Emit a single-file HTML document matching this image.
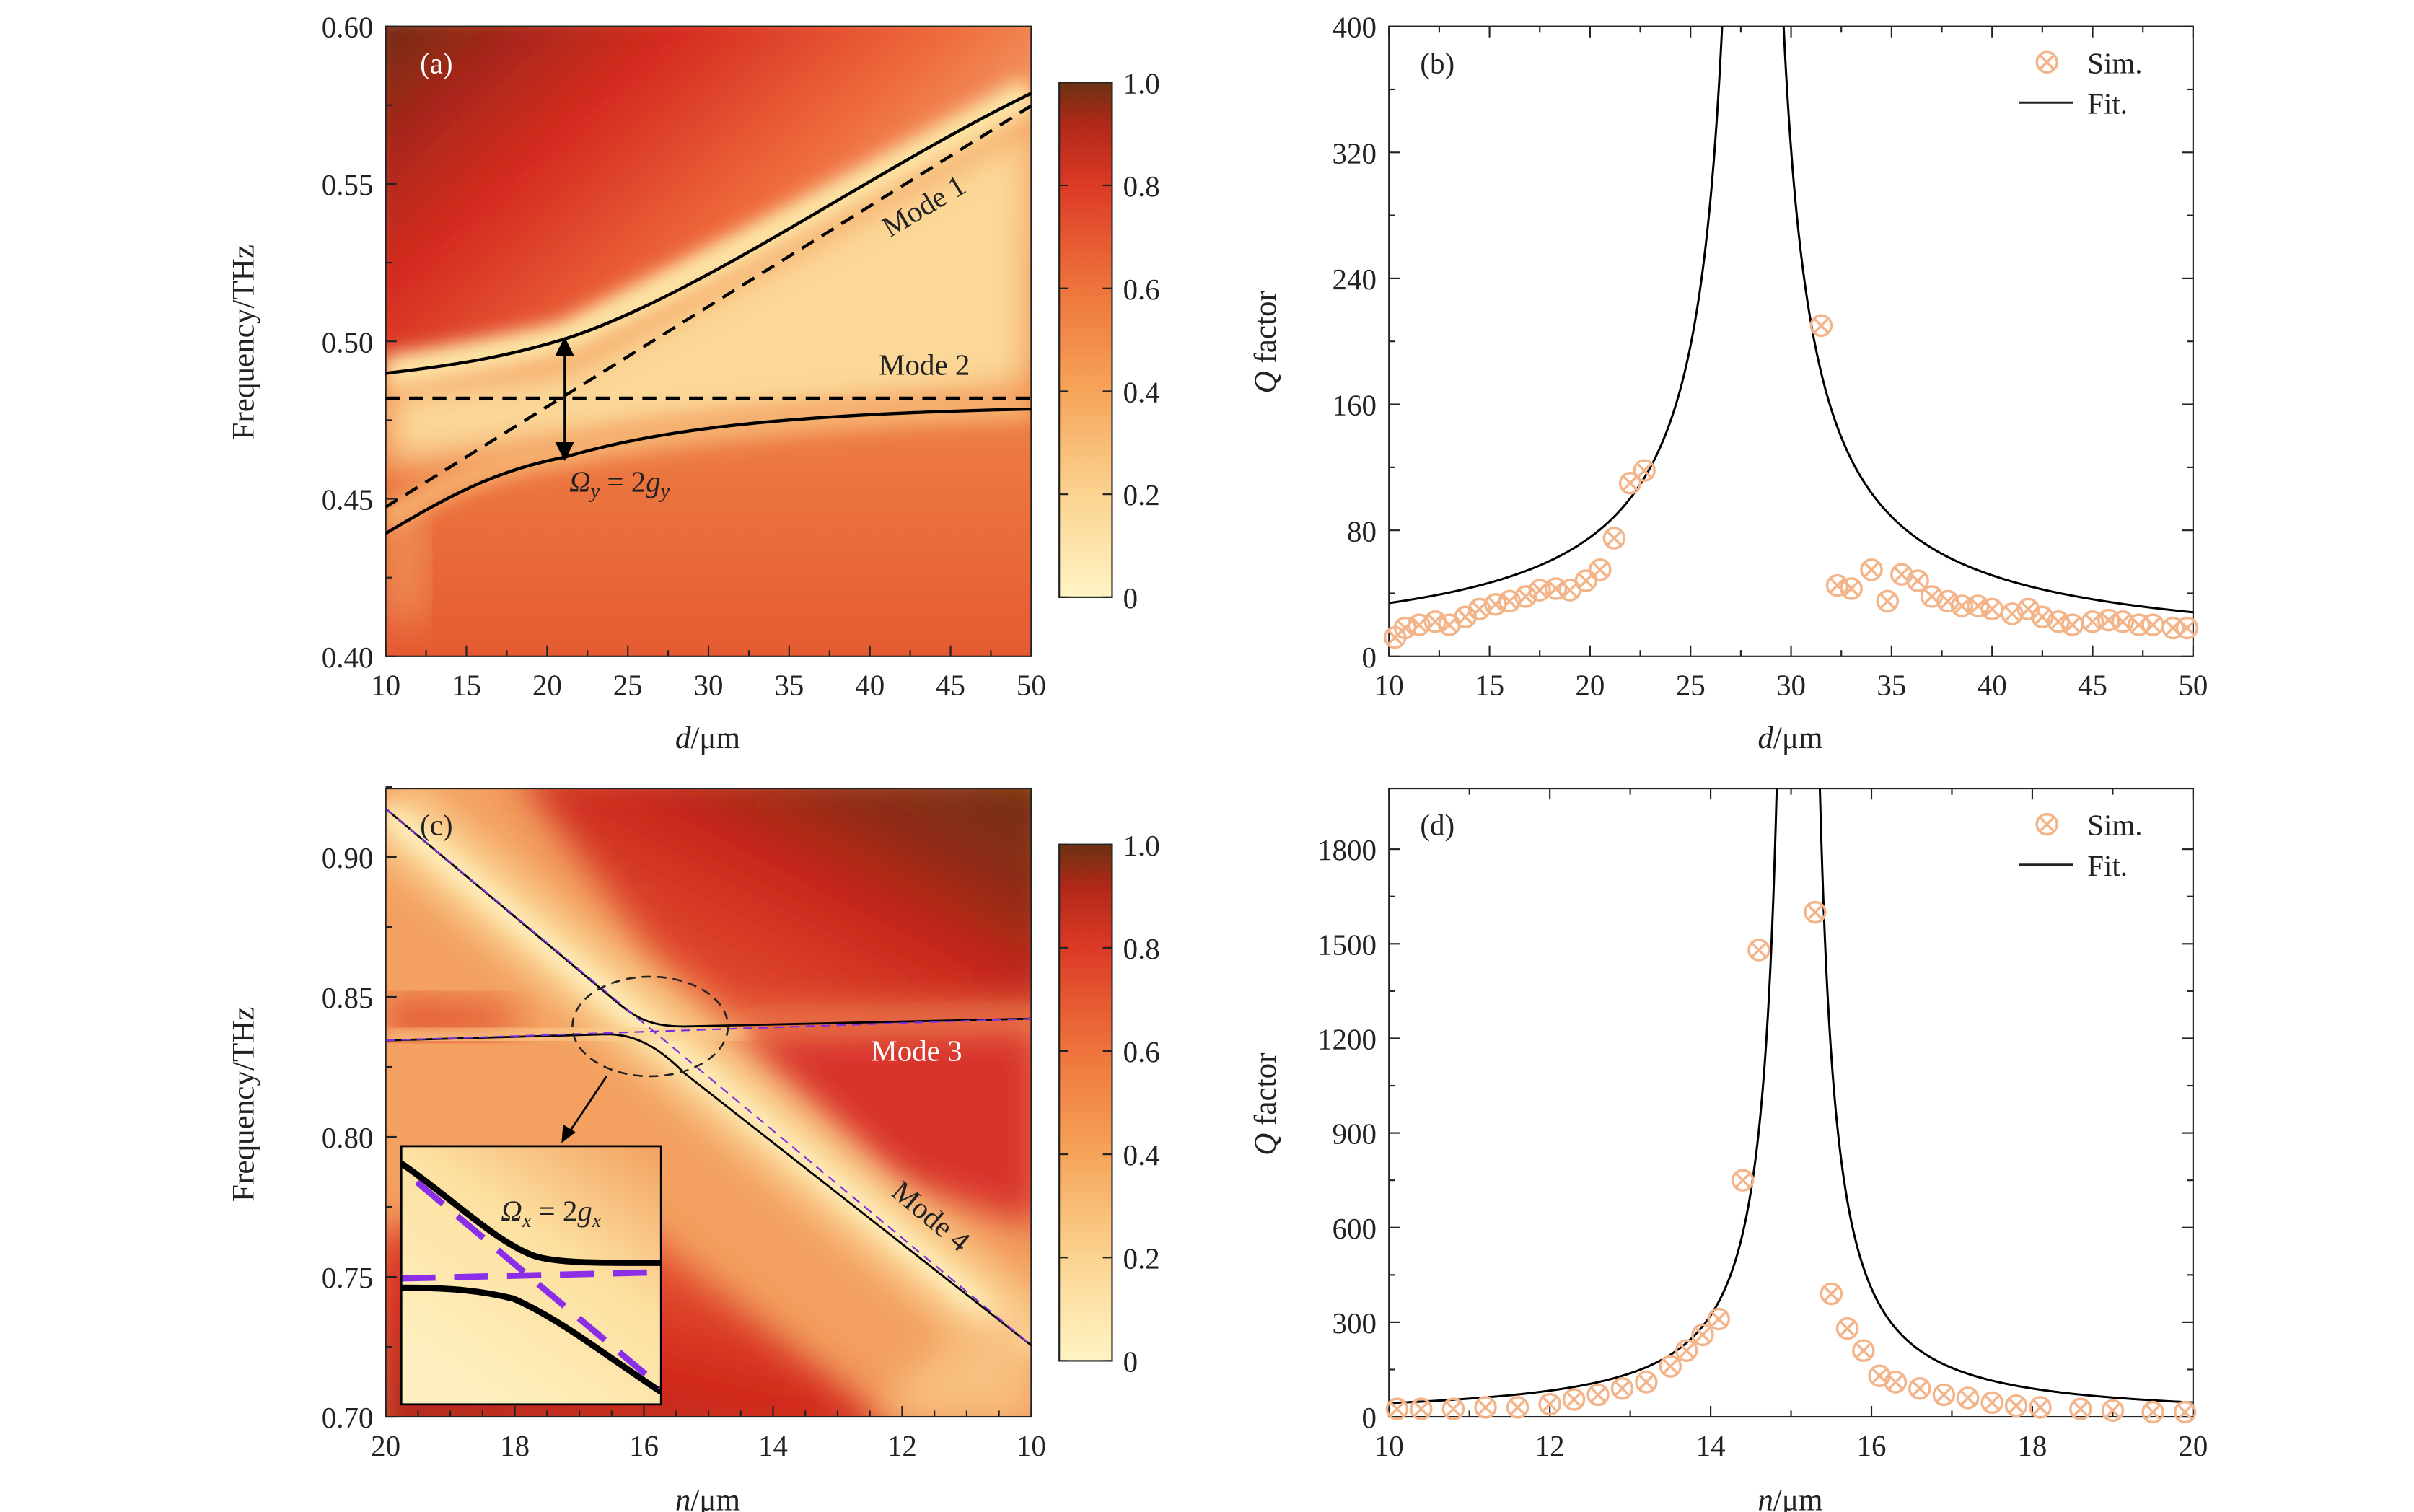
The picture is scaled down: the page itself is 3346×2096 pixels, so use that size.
<!DOCTYPE html>
<html><head><meta charset="utf-8">
<style>html,body{margin:0;padding:0;background:#fff}svg{display:block}
text{font-family:"Liberation Serif",serif;fill:#222}</style></head>
<body>
<svg id="s" xmlns="http://www.w3.org/2000/svg" width="3346" height="2096" viewBox="0 0 1552 972.2" preserveAspectRatio="none">
<defs>
<linearGradient id="cb" x1="0" y1="1" x2="0" y2="0">
<stop offset="0" stop-color="#fff4c4"/><stop offset="0.2" stop-color="#fbd390"/><stop offset="0.4" stop-color="#f6a45a"/><stop offset="0.6" stop-color="#ee743c"/><stop offset="0.8" stop-color="#dc3a26"/><stop offset="0.92" stop-color="#b02818"/><stop offset="1" stop-color="#6a3212"/></linearGradient>
<linearGradient id="ga" x1="0" y1="0" x2="1" y2="0.6">
<stop offset="0" stop-color="#6a2a10"/><stop offset="0.18" stop-color="#a8281a"/><stop offset="0.35" stop-color="#d42a20"/><stop offset="0.65" stop-color="#ee6a3c"/><stop offset="1" stop-color="#f8c688"/></linearGradient>
<linearGradient id="gab" x1="0" y1="0" x2="0" y2="1">
<stop offset="0" stop-color="#f6a866"/><stop offset="0.5" stop-color="#f08a48"/><stop offset="1" stop-color="#e55a32"/></linearGradient>
<linearGradient id="gc" x1="1" y1="0" x2="0.2" y2="0.7">
<stop offset="0" stop-color="#6a3010"/><stop offset="0.35" stop-color="#8e2c14"/><stop offset="0.6" stop-color="#c8261c"/><stop offset="1" stop-color="#e24a2e"/></linearGradient>
<linearGradient id="gbl" x1="0" y1="1" x2="0.6" y2="0">
<stop offset="0" stop-color="#a82818"/><stop offset="0.5" stop-color="#d42a1e"/><stop offset="1" stop-color="#ec6a3a"/></linearGradient>
<linearGradient id="gi" x1="1" y1="0" x2="0.3" y2="1">
<stop offset="0" stop-color="#f3a060"/><stop offset="0.45" stop-color="#fce0a0"/><stop offset="1" stop-color="#fff0c0"/></linearGradient>
<filter id="bl" x="-20%" y="-20%" width="140%" height="140%"><feGaussianBlur stdDeviation="12"/></filter>
<filter id="bl2" x="-20%" y="-20%" width="140%" height="140%"><feGaussianBlur stdDeviation="6"/></filter>
<clipPath id="ca"><rect x="248" y="17" width="415" height="405"/></clipPath>
<clipPath id="cc"><rect x="248" y="507" width="415" height="404"/></clipPath>
<clipPath id="cb2"><rect x="893" y="17" width="517" height="405"/></clipPath>
<clipPath id="cd"><rect x="893" y="507" width="517" height="404"/></clipPath>
<clipPath id="ci"><rect x="258" y="737" width="167" height="166"/></clipPath>
</defs>

<g clip-path="url(#ca)">
<rect x="248" y="17" width="415" height="405" fill="url(#gab)"/>
<path d="M240,10 L670,10 L670,60 Q520,140 363,218 Q300,232 240,240 Z" fill="url(#ga)" filter="url(#bl2)"/>
<path d="M248,240 Q300,232 363,218 Q500,150 663,60" fill="none" stroke="#fde6a8" stroke-width="22" filter="url(#bl2)"/>
<path d="M248,250 L363,235 L663,80 L663,250 L248,300Z" fill="#fbd898" filter="url(#bl)"/>
<path d="M248,335 Q300,300 363,290 Q450,266 663,262" fill="none" stroke="#f6b070" stroke-width="16" filter="url(#bl2)"/>
<rect x="248" y="330" width="25" height="70" fill="#f6b878" filter="url(#bl)" opacity="0.5"/>
</g>
<rect x="248" y="17" width="415" height="405" fill="none" stroke="#222" stroke-width="1"/>
<g clip-path="url(#ca)" fill="none" stroke="#000" stroke-width="2">
<path d="M248,240 C300,234 330,228 363,218 C450,190 560,110 663,60"/>
<path d="M248,343 C290,318 320,302 363,294 C430,274 520,266 663,263"/>
<path d="M248,256 L663,256" stroke-dasharray="9,6"/>
<path d="M248,326 L663,68" stroke-dasharray="9,6"/>
</g>
<g stroke="#000" stroke-width="1.3" fill="#000">
<line x1="363" y1="226" x2="363" y2="287"/>
<path d="M363,218 l-5,10 l10,0Z"/><path d="M363,295 l-5,-10 l10,0Z"/>
</g>
<text x="270" y="47" font-size="19" style="fill:#fff">(a)</text>
<text x="0" y="0" font-size="19" transform="translate(572,153) rotate(-31)">Mode 1</text>
<text x="565" y="241" font-size="19">Mode 2</text>
<text x="366" y="316" font-size="19" font-style="italic">Ω<tspan font-size="13" dy="4">y</tspan><tspan dy="-4" font-style="normal"> = 2</tspan>g<tspan font-size="13" dy="4">y</tspan></text>

<g clip-path="url(#cc)">
<rect x="248" y="507" width="415" height="404" fill="#f3a060"/>
<path d="M330,495 L680,495 L680,648 L470,654 L420,615Z" fill="url(#gc)" filter="url(#bl)"/>
<path d="M470,664 L670,660 L670,790 L575,760Z" fill="#d8302a" filter="url(#bl)"/>
<path d="M240,790 L240,930 L590,930 L400,780Z" fill="url(#gbl)" filter="url(#bl)"/>
<path d="M248,642 L330,648 L330,664 L248,666Z" fill="#e04a2c" filter="url(#bl)"/>
<path d="M248,520 L663,865" stroke="#fbd898" stroke-width="44" filter="url(#bl)"/>
<path d="M248,522 L663,867" stroke="#fff0c0" stroke-width="12" filter="url(#bl2)"/>
<path d="M248,668 L480,662" stroke="#fbd090" stroke-width="10" filter="url(#bl2)"/>
<path d="M600,870 L663,830 L663,911 L560,911Z" fill="#f8c080" filter="url(#bl)"/>
</g>
<rect x="248" y="507" width="415" height="404" fill="none" stroke="#222" stroke-width="1"/>
<g clip-path="url(#cc)" fill="none">
<path d="M248,520 L395,643 C410,656 420,660 440,660 L663,655" stroke="#000" stroke-width="1.3"/>
<path d="M248,669 L390,665 C410,665 425,675 440,690 L663,865" stroke="#000" stroke-width="1.3"/>
<path d="M248,520 L663,865" stroke="#7a30e0" stroke-width="1" stroke-dasharray="6,4"/>
<path d="M248,669 L663,655" stroke="#7a30e0" stroke-width="1" stroke-dasharray="6,4"/>
</g>
<ellipse cx="418" cy="660" rx="50" ry="32" fill="none" stroke="#222" stroke-width="1.2" stroke-dasharray="6,4"/>
<line x1="390" y1="692" x2="366" y2="728" stroke="#000" stroke-width="1.3"/>
<path d="M361,735 l1,-12 l8,5Z" fill="#000"/>
<text x="270" y="537" font-size="19">(c)</text>
<text x="560" y="682" font-size="19" style="fill:#fff">Mode 3</text>
<text x="0" y="0" font-size="19" transform="translate(572,768) rotate(40)">Mode 4</text>
<g clip-path="url(#ci)">
<rect x="258" y="737" width="167" height="166" fill="url(#gi)"/>
<path d="M258,748 C290,770 320,800 345,808 C360,812 380,812 425,812" fill="none" stroke="#000" stroke-width="4"/>
<path d="M258,828 C290,828 310,830 330,835 C360,848 390,872 425,895" fill="none" stroke="#000" stroke-width="4"/>
<path d="M268,760 L425,892" fill="none" stroke="#8a2ee8" stroke-width="4" stroke-dasharray="22,12"/>
<path d="M258,822 L425,818" fill="none" stroke="#8a2ee8" stroke-width="4" stroke-dasharray="22,12"/>
</g>
<rect x="258" y="737" width="167" height="166" fill="none" stroke="#000" stroke-width="1.3"/>
<text x="322" y="785" font-size="19" font-style="italic">Ω<tspan font-size="13" dy="4">x</tspan><tspan dy="-4" font-style="normal"> = 2</tspan>g<tspan font-size="13" dy="4">x</tspan></text>

<rect x="681" y="53" width="34" height="331" fill="url(#cb)" stroke="#222" stroke-width="1"/>
<rect x="681" y="543" width="34" height="332" fill="url(#cb)" stroke="#222" stroke-width="1"/>

<text x="820" y="220" font-size="20" text-anchor="middle" transform="rotate(-90 820 220)"><tspan font-style="italic">Q</tspan> factor</text>
<text x="820" y="710" font-size="20" text-anchor="middle" transform="rotate(-90 820 710)"><tspan font-style="italic">Q</tspan> factor</text>
<text x="163" y="220" font-size="20" text-anchor="middle" transform="rotate(-90 163 220)">Frequency/THz</text>
<text x="163" y="710" font-size="20" text-anchor="middle" transform="rotate(-90 163 710)">Frequency/THz</text>
<text x="455" y="481" font-size="20" text-anchor="middle"><tspan font-style="italic">d</tspan>/μm</text>
<text x="1151" y="481" font-size="20" text-anchor="middle"><tspan font-style="italic">d</tspan>/μm</text>
<text x="455" y="971" font-size="20" text-anchor="middle"><tspan font-style="italic">n</tspan>/μm</text>
<text x="1151" y="971" font-size="20" text-anchor="middle"><tspan font-style="italic">n</tspan>/μm</text>

<rect x="893" y="17" width="517" height="405" fill="none" stroke="#222" stroke-width="1"/>
<rect x="893" y="507" width="517" height="404" fill="none" stroke="#222" stroke-width="1"/>
<text x="913" y="47" font-size="19">(b)</text>
<text x="913" y="537" font-size="19">(d)</text>
<g id="dyn"></g>
</svg>
<script>
const NS="http://www.w3.org/2000/svg",g=document.getElementById("dyn");
function el(t,a,txt){const e=document.createElementNS(NS,t);for(const k in a)e.setAttribute(k,a[k]);if(txt!=null)e.textContent=txt;g.appendChild(e);return e;}
function ln(x1,y1,x2,y2,w){el("line",{x1,y1,x2,y2,stroke:"#222","stroke-width":w||1});}
function xaxis(x0,x1,y0,y1,v0,v1,step,minor,labels,both){
 for(let i=0;i<=Math.round((v1-v0)/minor);i++){const v=v0+i*minor;const x=x0+(v-v0)/(v1-v0)*(x1-x0);
  const major=Math.abs(Math.round(i*minor/step)-i*minor/step)<1e-6;const L=major?7:4;
  ln(x,y1,x,y1-L);if(both)ln(x,y0,x,y0+L);
  if(major)el("text",{x:x,y:y1+25,"font-size":19,"text-anchor":"middle"},labels(v));}
}
function yaxis(x0,x1,y0,y1,v0,v1,step,minor,labels,both){
 const n=Math.round((v1-v0)/minor);
 for(let i=0;i<=n;i++){const v=v0+i*minor;const y=y1-(v-v0)/(v1-v0)*(y1-y0);
  const major=Math.abs(Math.round(i*minor/step)-i*minor/step)<1e-6;const L=major?7:4;
  ln(x0,y,x0+L,y);if(both)ln(x1,y,x1-L,y);
  if(major)el("text",{x:x0-8,y:y+7,"font-size":19,"text-anchor":"end"},labels(v));}
}
xaxis(248,663,17,422,10,50,5,2.5,v=>Math.round(v));
yaxis(248,663,17,422,0.40,0.60,0.05,0.025,v=>v.toFixed(2));
(function(){for(let i=0;i<=20;i++){const v=20-i*0.5;const x=248+i*0.5/10*415;const maj=i%4==0;ln(x,911,x,911-(maj?7:4));
 if(maj)el("text",{x:x,y:936,"font-size":19,"text-anchor":"middle"},Math.round(v));}})();
(function(){for(let i=0;i<=9;i++){const v=0.70+i*0.025;const y=911-(v-0.70)/0.05*90;const maj=i%2==0;ln(248,y,248+(maj?7:4),y);
 if(maj)el("text",{x:240,y:y+7,"font-size":19,"text-anchor":"end"},v.toFixed(2));}})();
function cbar(y0,y1){for(let i=0;i<=5;i++){const v=i*0.2;const y=y1-v*(y1-y0);ln(715,y,709,y);ln(681,y,687,y);
 el("text",{x:722,y:y+7,"font-size":19},i==0?"0":v.toFixed(1));}}
cbar(53,384);cbar(543,875);
xaxis(893,1410,17,422,10,50,5,2.5,v=>Math.round(v),true);
yaxis(893,1410,17,422,0,400,80,40,v=>Math.round(v),true);
xaxis(893,1410,507,911,10,20,2,1,v=>Math.round(v),true);
(function(){for(let v=0;v<=1800;v+=150){const y=911-v*365/1800;const maj=v%300==0;const L=maj?7:4;ln(893,y,893+L,y);ln(1410,y,1410-L,y);
 if(maj)el("text",{x:885,y:y+7,"font-size":19,"text-anchor":"end"},v);}})();
function mark(x,y){el("circle",{cx:x,cy:y,r:6.5,fill:"none",stroke:"#f4b48a","stroke-width":1.6});
 const d=4.6;el("path",{d:`M${x-d},${y-d}L${x+d},${y+d}M${x-d},${y+d}L${x+d},${y-d}`,stroke:"#f4b48a","stroke-width":1.6});}
function curve(fn,xa,xb,X,Y,clip){let d="";for(let v=xa;v<=xb;v+=0.01){const q=fn(v);if(!isFinite(q))continue;d+=(d?"L":"M")+X(v).toFixed(2)+","+Y(Math.min(q,5000)).toFixed(2);}
 el("path",{d,fill:"none",stroke:"#000","stroke-width":1.4,"clip-path":clip});}
const Xb=v=>893+(v-10)/40*517,Yb=q=>422-q*405/400;
curve(v=>612/Math.abs(v-28.1),10,28.09,Xb,Yb,"url(#cb2)");curve(v=>612/Math.abs(v-28.1),28.11,50,Xb,Yb,"url(#cb2)");
[[10.3,12],[10.8,18],[11.5,20],[12.3,22],[13,20],[13.8,25],[14.5,30],[15.3,33],[16,35],[16.8,38],[17.5,42],[18.3,43],[19,42],[19.8,48],[20.5,55],[21.2,75],[22,110],[22.7,118],[31.5,210],[32.3,45],[33,43],[34,55],[34.8,35],[35.5,52],[36.3,48],[37,38],[37.8,35],[38.5,32],[39.3,32],[40,30],[41,27],[41.8,30],[42.5,25],[43.3,22],[44,20],[45,22],[45.8,23],[46.5,22],[47.3,20],[48,20],[49,18],[49.7,18]].forEach(p=>mark(Xb(p[0]),Yb(p[1])));
const Xd=v=>893+(v-10)/10*517,Yd=q=>911-q*365/1800;
curve(v=>360/Math.pow(Math.abs(v-15.09),1.3),10,15.08,Xd,Yd,"url(#cd)");curve(v=>360/Math.pow(Math.abs(v-15.09),1.3),15.1,20,Xd,Yd,"url(#cd)");
[[10.1,25],[10.4,25],[10.8,25],[11.2,30],[11.6,30],[12,40],[12.3,55],[12.6,70],[12.9,90],[13.2,110],[13.5,160],[13.7,210],[13.9,260],[14.1,310],[14.4,750],[14.6,1480],[15.3,1600],[15.5,390],[15.7,280],[15.9,210],[16.1,130],[16.3,110],[16.6,90],[16.9,70],[17.2,60],[17.5,45],[17.8,35],[18.1,30],[18.6,25],[19,20],[19.5,15],[19.9,15]].forEach(p=>mark(Xd(p[0]),Yd(p[1])));
[[40,66],[530,556]].forEach(([a,b])=>{mark(1316,a);el("text",{x:1342,y:a+7,"font-size":19},"Sim.");ln(1298,b,1333,b,1.4);el("text",{x:1342,y:b+7,"font-size":19},"Fit.");});
</script>
</body></html>
